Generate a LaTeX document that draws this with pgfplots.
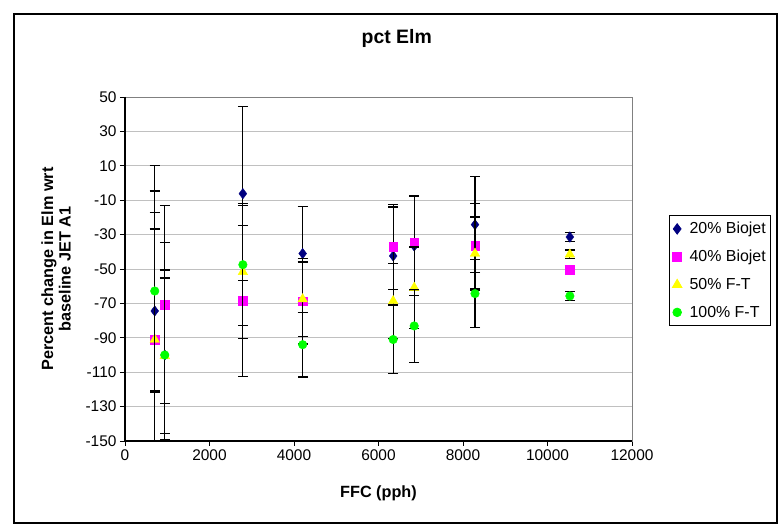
\documentclass[border=0pt]{standalone}
\usepackage{fontspec}
\setmainfont{Liberation Sans}
\usepackage{pgfplots}
\pgfplotsset{compat=1.18}

\definecolor{navyc}{RGB}{0,0,128}
\definecolor{magc}{RGB}{255,0,255}
\definecolor{yelc}{RGB}{255,255,0}
\definecolor{grnc}{RGB}{0,255,0}
\definecolor{gridc}{RGB}{192,192,192}
\definecolor{boxc}{RGB}{128,128,128}

\begin{document}
\begin{tikzpicture}
\useasboundingbox (0bp,0bp) rectangle (782bp,524bp);
\draw[black, line width=1.2bp] (14bp,1bp) rectangle (777bp,510bp);
\begin{axis}[
  at={(125bp,83bp)}, anchor=south west,
  scale only axis, width=507bp, height=344bp,
  xmin=0, xmax=12000, ymin=-150, ymax=50,
  xtick={0,2000,...,12000}, ytick={-150,-130,...,50},
  scaled x ticks=false,
  ymajorgrids, major grid style={gridc, line width=0.8bp},
  axis line style={boxc, line width=0.8bp},
  tick align=outside, tick pos=left, major tick length=5bp,
  tick style={black, line width=0.8bp},
  clip mode=individual,
  ticklabel style={font=\fontsize{15.5}{17}\selectfont},
  /pgf/number format/assume math mode=true,
  /pgf/number format/1000 sep={},
  title={pct Elm},
  title style={font=\bfseries\fontsize{19.5}{22}\selectfont,
    at={([yshift=47.7bp]axis description cs:0.536,1)}, anchor=base},
  xlabel={FFC (pph)},
  xlabel style={font=\bfseries\fontsize{16.3}{18}\selectfont,
    at={([yshift=-57bp]axis description cs:0.5,0)}, anchor=base},
  ylabel={Percent change in Elm wrt\\baseline JET A1},
  ylabel style={font=\bfseries\fontsize{16.3}{17.7}\selectfont, align=center,
    at={([xshift=-54bp]axis description cs:0,0.5)}, anchor=south, inner sep=0pt},
  only marks,
  legend image code/.code={\draw[mark repeat=2,mark phase=2] plot coordinates {(0bp,0bp)(7bp,0bp)(14bp,0bp)}; \path (17bp,0bp);},
  legend style={at={(1.073,0.657)}, anchor=north west, draw=black, line width=0.8bp,
    font=\fontsize{16}{18}\selectfont, inner xsep=3bp, inner ysep=5bp,
    row sep=11bp, cells={anchor=west}},
  error bars/y dir=both, error bars/y explicit,
  error bars/error bar style={black, line width=1.2bp},
  error bars/error mark options={rotate=90, mark size=5bp, black, line width=1.2bp},
]
\addplot[mark=diamond*, mark size=5.2bp, color=navyc] table[x=x, y=y, y error=e] {
x y e
704 -74.4 47.6
941 -100 65.3
2790 -6.2 50.6
4205 -41 27.5
6347 -42.4 28.5
6845 -36.6 29
8284 -24.2 28
10529 -31.4 2.6
};
\addplot[mark=square*, mark size=4.3bp, color=magc] table[x=x, y=y, y error=e] {
x y e
704 -91 101
941 -70.7 57.5
2790 -68.6 44
4205 -68.8 24.8
6347 -37.2 24.8
6845 -34.7 27.5
8284 -36.6 24.6
10529 -50.4 2.4
};
\addplot[mark=triangle*, mark size=5.5bp, color=yelc] table[x=x, y=y, y error=e] {
x y e
704 -91 74
941 -100.5 45.3
2790 -51.7 38.5
4205 -67.5 21.6
6347 -68.6 21.7
6845 -60.8 23.6
8284 -41 21.2
10529 -41.5 2.5
};
\addplot[mark=*, mark size=4.3bp, color=grnc] table[x=x, y=y, y error=e] {
x y e
704 -62.8 58.1
941 -100 49.4
2790 -47.5 35.5
4205 -94 18.8
6347 -91 19.6
6845 -83.1 21.2
8284 -64.3 19.7
10529 -65.7 2.4
};
\legend{20\% Biojet, 40\% Biojet, 50\% F-T, 100\% F-T}
\draw[black, line width=1.5bp] (rel axis cs:0,1) -- (rel axis cs:0,0) -- (rel axis cs:1,0);
\end{axis}
\end{tikzpicture}
\end{document}
